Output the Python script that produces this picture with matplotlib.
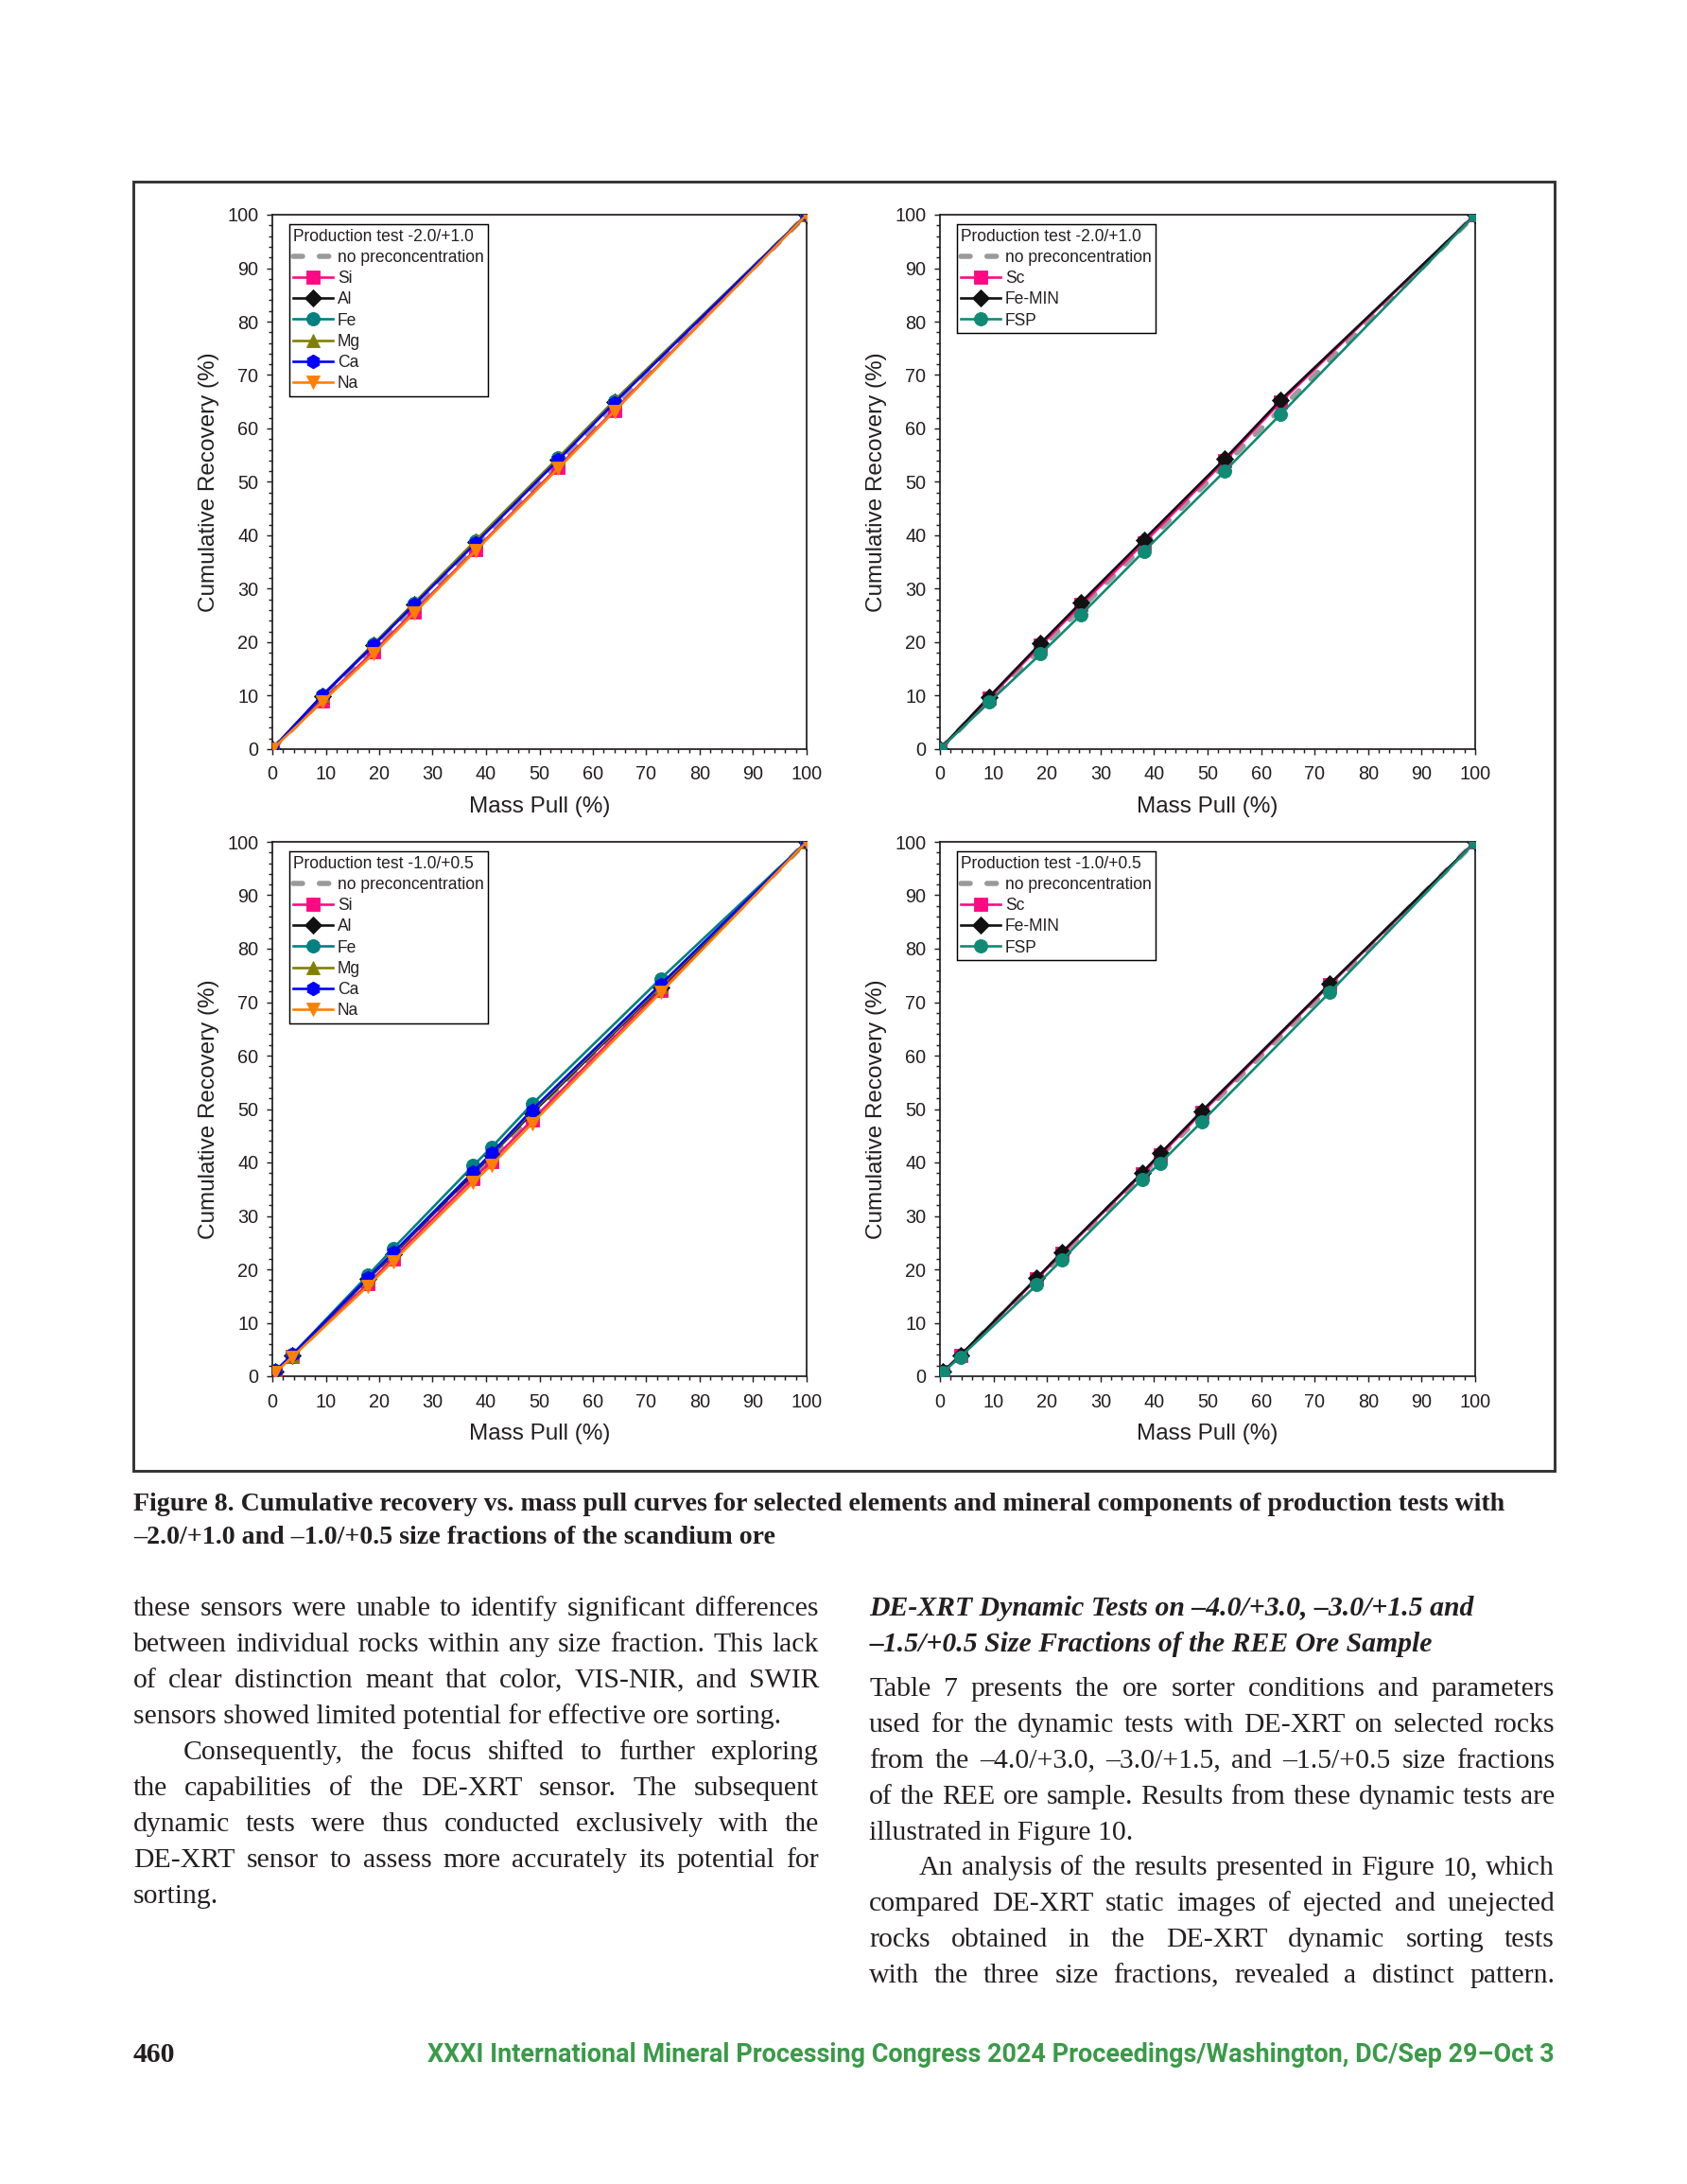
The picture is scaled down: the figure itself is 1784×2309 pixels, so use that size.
import matplotlib
matplotlib.use('Agg')
import matplotlib.pyplot as plt
from matplotlib.lines import Line2D
from matplotlib.patches import Rectangle
from matplotlib.ticker import MultipleLocator

W, H = 1784, 2309
DPI = 210

# --- data ---------------------------------------------------------------
diag = [0, 100]

x_tl = [0, 9.3, 18.9, 26.5, 38.1, 53.5, 64.0, 100]
tl_si = [0, 9.0, 18.2, 25.7, 37.4, 52.8, 63.4, 100]
tl_al = [0, 9.9, 19.4, 27.1, 38.8, 54.2, 64.9, 100]
tl_fe = [0, 10.0, 19.6, 27.3, 39.0, 54.5, 65.2, 100]
tl_mg = [0, 10.0, 19.6, 27.3, 39.1, 54.5, 65.2, 100]
tl_ca = [0, 10.0, 19.4, 27.0, 38.6, 54.1, 64.8, 100]
tl_na = [0, 8.8, 17.8, 25.4, 37.2, 52.5, 63.2, 100]

x_tr = [0, 9.2, 18.8, 26.4, 38.1, 53.2, 63.6, 100]
tr_sc = [0, 9.6, 19.4, 27.0, 38.6, 53.9, 64.9, 100]
tr_femin = [0, 9.8, 19.8, 27.5, 39.2, 54.3, 65.3, 100]
tr_fsp = [0, 8.8, 17.8, 25.2, 37.0, 52.0, 62.6, 100]

x_bl = [0.6, 3.7, 17.9, 22.6, 37.6, 41.0, 48.6, 72.7, 100]
bl_si = [0.8, 3.7, 17.3, 22.0, 37.0, 40.2, 47.9, 72.2, 100]
bl_al = [0.9, 3.9, 18.2, 22.8, 37.9, 41.4, 49.2, 72.8, 100]
bl_fe = [1.0, 4.0, 18.9, 23.9, 39.4, 42.8, 50.9, 74.4, 100]
bl_mg = [0.9, 3.9, 18.3, 23.0, 38.2, 41.6, 49.5, 73.0, 100]
bl_ca = [1.0, 4.0, 18.4, 23.1, 38.2, 41.7, 49.8, 73.3, 100]
bl_na = [0.7, 3.6, 16.9, 21.5, 36.3, 39.5, 47.3, 71.8, 100]

x_br = [0.5, 3.8, 18.1, 22.8, 37.8, 41.2, 48.9, 72.8, 100]
br_sc = [0.8, 3.9, 18.2, 23.0, 37.9, 41.4, 49.3, 73.2, 100]
br_femin = [0.8, 3.9, 18.4, 23.2, 38.1, 41.7, 49.6, 73.4, 100]
br_fsp = [0.7, 3.6, 17.1, 21.8, 36.9, 39.9, 47.6, 71.8, 100]

elements = ['Si', 'Al', 'Fe', 'Mg', 'Ca', 'Na']
minerals = ['Sc', 'Fe-MIN', 'FSP']

styles = {
    'Si': ('#ff0a84', 's', 4.6),
    'Al': ('#111111', 'D', 4.2),
    'Fe': ('#008080', 'o', 4.8),
    'Mg': ('#808000', '^', 5.0),
    'Ca': ('#0000ff', 'h', 5.0),
    'Na': ('#ff8000', 'v', 5.0),
    'Sc': ('#ff0a84', 's', 4.6),
    'Fe-MIN': ('#111111', 'D', 4.2),
    'FSP': ('#0f8a74', 'o', 4.8),
}

panels = [
    ((288, 227, 853, 792), 'Production test -2.0/+1.0', x_tl, elements,
     [tl_si, tl_al, tl_fe, tl_mg, tl_ca, tl_na]),
    ((994, 227, 1560, 792), 'Production test -2.0/+1.0', x_tr, minerals,
     [tr_sc, tr_femin, tr_fsp]),
    ((288, 890, 853, 1455), 'Production test -1.0/+0.5', x_bl, elements,
     [bl_si, bl_al, bl_fe, bl_mg, bl_ca, bl_na]),
    ((994, 890, 1560, 1455), 'Production test -1.0/+0.5', x_br, minerals,
     [br_sc, br_femin, br_fsp]),
]

left_col = [
    ('these sensors were unable to identify significant differences', True, 0),
    ('between individual rocks within any size fraction. This lack', True, 0),
    ('of clear distinction meant that color, VIS-NIR, and SWIR', True, 0),
    ('sensors showed limited potential for effective ore sorting.', False, 0),
    ('Consequently, the focus shifted to further exploring', True, 53),
    ('the capabilities of the DE-XRT sensor. The subsequent', True, 0),
    ('dynamic tests were thus conducted exclusively with the', True, 0),
    ('DE-XRT sensor to assess more accurately its potential for', True, 0),
    ('sorting.', False, 0),
]
right_head = [
    'DE-XRT Dynamic Tests on \u20134.0/+3.0, \u20133.0/+1.5 and',
    '\u20131.5/+0.5 Size Fractions of the REE Ore Sample',
]
right_col = [
    ('Table 7 presents the ore sorter conditions and parameters', True, 0),
    ('used for the dynamic tests with DE-XRT on selected rocks', True, 0),
    ('from the \u20134.0/+3.0, \u20133.0/+1.5, and \u20131.5/+0.5 size fractions', True, 0),
    ('of the REE ore sample. Results from these dynamic tests are', True, 0),
    ('illustrated in Figure 10.', False, 0),
    ('An analysis of the results presented in Figure 10, which', True, 53),
    ('compared DE-XRT static images of ejected and unejected', True, 0),
    ('rocks obtained in the DE-XRT dynamic sorting tests', True, 0),
    ('with the three size fractions, revealed a distinct pattern.', True, 0),
]
caption = [
    'Figure 8. Cumulative recovery vs. mass pull curves for selected elements '
    'and mineral components of production tests with',
    '\u20132.0/+1.0 and \u20131.0/+0.5 size fractions of the scandium ore',
]
page_no = '460'
footer = ('XXXI International Mineral Processing Congress 2024 '
          'Proceedings/Washington, DC/Sep 29\u2013Oct 3')

# --- figure -------------------------------------------------------------
plt.rcParams['font.family'] = 'Liberation Sans'
TXT = '#231f20'
GRAY = '#9a9a9a'

fig = plt.figure(figsize=(W / DPI, H / DPI), dpi=DPI)
renderer = fig.canvas.get_renderer()


def rect(l, t, r, b):
    return [l / W, 1 - b / H, (r - l) / W, (b - t) / H]


fig.add_artist(Rectangle((141 / W, 1 - 1555 / H), (1644 - 141) / W, (1555 - 192) / H,
                         transform=fig.transFigure, fill=False, lw=1.0, ec='#333333'))

for box, title, xs, names, series in panels:
    ax = fig.add_axes(rect(*box))
    ax.plot(diag, diag, color=GRAY, lw=1.9, dashes=(1.8, 3.2),
            dash_capstyle='round', zorder=2)
    handles = [Line2D([], [], color=GRAY, lw=1.9, dashes=(1.8, 3.2),
                      dash_capstyle='round')]
    for name, ys in zip(names, series):
        c, m, ms = styles[name]
        ax.plot(xs, ys, color=c, lw=0.9, marker=m, ms=ms, mfc=c, mec=c,
                mew=0.3, zorder=3)
        handles.append(Line2D([], [], color=c, lw=0.9, marker=m, ms=ms,
                              mfc=c, mec=c, mew=0.3))
    ax.set_xlim(0, 100)
    ax.set_ylim(0, 100)
    ax.xaxis.set_major_locator(MultipleLocator(10))
    ax.yaxis.set_major_locator(MultipleLocator(10))
    ax.xaxis.set_minor_locator(MultipleLocator(2))
    ax.yaxis.set_minor_locator(MultipleLocator(2))
    ax.tick_params(which='both', direction='out', width=0.5, color=TXT,
                   top=False, right=False)
    ax.tick_params(which='major', length=2.2, labelsize=6.8, labelcolor=TXT)
    ax.tick_params(which='minor', length=1.4)
    ax.tick_params(axis='x', which='major', pad=3.8)
    ax.tick_params(axis='y', which='major', pad=2.8)
    for sp in ax.spines.values():
        sp.set_linewidth(0.6)
        sp.set_color(TXT)
    ax.set_xlabel('Mass Pull (%)', fontsize=8.3, color=TXT, va='center')
    ax.set_ylabel('Cumulative Recovery (%)', fontsize=8.3, color=TXT, va='center')
    ax.xaxis.set_label_coords(0.5, (792 - 853) / 565)
    ax.yaxis.set_label_coords((221 - 288) / 565, 0.5)
    leg = ax.legend(handles, ['no preconcentration'] + names, title=title,
                    loc='upper left', bbox_to_anchor=(0.032, 0.982),
                    fontsize=6, title_fontsize=6, alignment='left',
                    fancybox=False, edgecolor='black', framealpha=1,
                    borderpad=0.25, labelspacing=0.3, handlelength=2.4,
                    handletextpad=0.25, borderaxespad=0)
    leg.get_frame().set_linewidth(0.5)
    leg.get_title().set_color(TXT)
    for t in leg.get_texts():
        t.set_color(TXT)


# --- page text ----------------------------------------------------------
def width_of(s, **kw):
    t = fig.text(0, 0, s, **kw)
    w = t.get_window_extent(renderer).width
    t.remove()
    return w


def put(x, y, s, **kw):
    fig.text(x / W, 1 - y / H, s, va='baseline', **kw)


def draw_lines(lines, x0, x1, y0, step, **kw):
    for i, (s, justify, indent) in enumerate(lines):
        y = y0 + i * step
        if not justify:
            put(x0 + indent, y, s, **kw)
            continue
        words = s.split(' ')
        ws = [width_of(w, **kw) for w in words]
        gap = (x1 - x0 - indent - sum(ws)) / (len(words) - 1)
        x = x0 + indent
        for w, wd in zip(words, ws):
            put(x, y, w, **kw)
            x += wd + gap


serif = dict(family='Liberation Serif', color=TXT)

# body size: the tightest justified line just fills its column
ratios = []
for lines, x0, x1 in [(left_col, 141, 866), (right_col, 919, 1644)]:
    for s, justify, indent in lines:
        if justify:
            ratios.append((x1 - x0 - indent) / width_of(s, fontsize=10, **serif))
body_size = 10 * min(ratios) * 0.99

draw_lines(left_col, 141, 866, 1707.5, 38.1, fontsize=body_size, **serif)
for i, s in enumerate(right_head):
    put(919, 1707.5 + i * 38.1, s, fontsize=body_size, fontweight='bold',
        fontstyle='italic', **serif)
draw_lines(right_col, 919, 1644, 1793, 37.9, fontsize=body_size, **serif)

cap_size = 10 * (1583 - 141) / width_of(caption[0], fontsize=10, fontweight='bold', **serif)
for i, s in enumerate(caption):
    put(141, 1597 + i * 35, s, fontsize=cap_size, fontweight='bold', **serif)

put(141, 2180, page_no, fontsize=body_size, fontweight='bold', **serif)
foot_size = 10 * (1644 - 452) / width_of(footer, fontsize=10, family='Roboto', fontweight='bold')
put(1644, 2180, footer, fontsize=foot_size, family='Roboto', fontweight='bold',
    color='#3a9a48', ha='right')

fig.savefig('out.png', dpi=DPI)
